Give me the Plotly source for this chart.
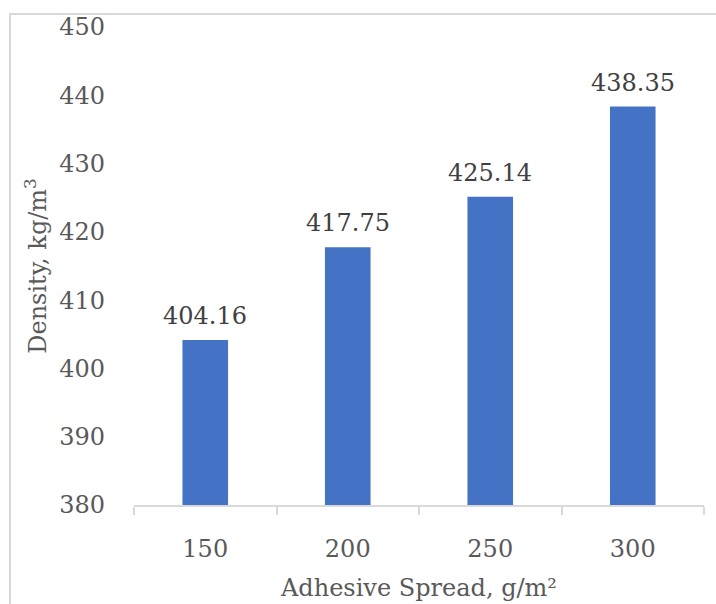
import plotly.graph_objects as go

# Adhesive spread levels and the resulting board density
spread = ["150", "200", "250", "300"]
density = [404.16, 417.75, 425.14, 438.35]
y_ticks = [380, 390, 400, 410, 420, 430, 440, 450]

FONT = "DejaVu Serif"
TEXT_GREY = "#595959"
LINE_GREY = "#D9D9D9"
SIZE = 24

fig = go.Figure(
    go.Bar(
        x=spread,
        y=density,
        marker=dict(color="#4472C4", line=dict(width=0)),
        hoverinfo="x+y",
    )
)

# Value labels above each bar (category axis positions are indices)
for idx, val in enumerate(density):
    fig.add_annotation(
        x=idx, y=val, text=f"{val:.2f}",
        showarrow=False, yanchor="middle", yshift=24,
        font=dict(family=FONT, size=SIZE, color="#404040"),
    )

# Light outer frame around the chart area
fig.add_shape(
    type="rect", xref="paper", yref="paper",
    x0=(10 - 134) / 570, x1=1.2, y0=-0.5, y1=(505 - 14) / 478,
    line=dict(color=LINE_GREY, width=2), fillcolor="rgba(0,0,0,0)",
    layer="below",
)

fig.update_layout(
    width=716, height=604,
    margin=dict(l=134, r=12, t=27, b=99),
    paper_bgcolor="white", plot_bgcolor="white",
    bargap=0.68,
    showlegend=False,
    font=dict(family=FONT, color=TEXT_GREY, size=SIZE),
    xaxis=dict(
        type="category",
        categoryorder="array", categoryarray=spread,
        range=[-0.5, 3.5], automargin=False,
        showline=True, linecolor=LINE_GREY, linewidth=1.5,
        ticks="outside", tickson="boundaries", ticklen=8,
        tickcolor=LINE_GREY, tickwidth=1.5,
        ticklabelstandoff=21, tickangle=0,
        tickfont=dict(family=FONT, size=SIZE, color=TEXT_GREY),
        showgrid=False,
        title=dict(text="Adhesive Spread, g/m²", standoff=18,
                   font=dict(family=FONT, size=SIZE, color=TEXT_GREY)),
    ),
    yaxis=dict(
        range=[380, 450], automargin=False,
        tickvals=y_ticks,
        showgrid=False, zeroline=False, showline=False,
        ticks="", ticklabelstandoff=28,
        tickfont=dict(family=FONT, size=SIZE, color=TEXT_GREY),
        title=dict(text="Density, kg/m<sup>3</sup>", standoff=5,
                   font=dict(family=FONT, size=SIZE, color=TEXT_GREY)),
    ),
)

fig.write_html("out.html")
